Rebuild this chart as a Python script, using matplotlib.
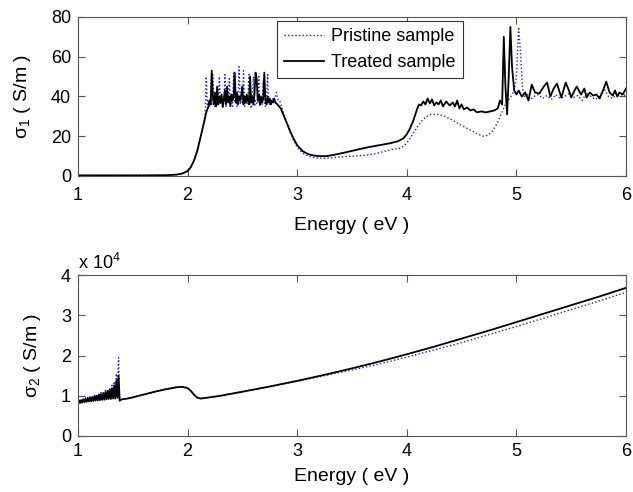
import matplotlib
matplotlib.use("Agg")
import matplotlib.pyplot as plt

plt.rcParams['font.family'] = ['Liberation Sans', 'DejaVu Sans']
plt.rcParams['mathtext.fontset'] = 'custom'
plt.rcParams['mathtext.rm'] = 'Liberation Sans'
plt.rcParams['mathtext.default'] = 'regular'

# ---- sigma_1 (S/m), pristine sample ----
e1_pristine = [1.00, 1.20, 1.40, 1.60, 1.80, 1.90, 1.95, 2.00, 2.03, 2.06, 2.09, 2.12, 2.15,
               2.16, 2.17, 2.18, 2.19, 2.20, 2.21, 2.22, 2.23, 2.24, 2.25, 2.26, 2.27, 2.28, 2.29,
               2.30, 2.31, 2.32, 2.33, 2.34, 2.35, 2.36, 2.37, 2.38, 2.39,
               2.40, 2.41, 2.42, 2.43, 2.44, 2.45, 2.46, 2.47, 2.48, 2.49,
               2.50, 2.51, 2.52, 2.53, 2.54, 2.55, 2.56, 2.57, 2.58, 2.59,
               2.60, 2.61, 2.62, 2.63, 2.64, 2.65, 2.66, 2.67, 2.68, 2.69,
               2.70, 2.71, 2.72, 2.73, 2.74, 2.75, 2.76, 2.77, 2.78, 2.79,
               2.80, 2.81, 2.82, 2.83, 2.84, 2.85,
               2.88, 2.91, 2.94, 2.97, 3.00, 3.05, 3.10, 3.15, 3.20, 3.25, 3.32, 3.40, 3.50, 3.60,
               3.70, 3.80, 3.88, 3.94, 3.98, 4.02, 4.06, 4.10, 4.14, 4.18, 4.22, 4.28, 4.35, 4.42,
               4.50, 4.58, 4.65, 4.70, 4.74, 4.78, 4.82, 4.86, 4.90, 4.95, 4.98, 5.00, 5.02, 5.04,
               5.055, 5.07, 5.10, 5.13, 5.16, 5.20, 5.24, 5.28, 5.32, 5.36, 5.40, 5.44, 5.48, 5.52,
               5.56, 5.60, 5.64, 5.68, 5.72, 5.76, 5.80, 5.84, 5.88, 5.92, 5.96, 6.00]
s1_pristine = [0.3, 0.3, 0.3, 0.3, 0.4, 0.7, 1.2, 2.5, 4.5, 8, 13, 20, 27,
               31, 50, 36, 38, 35, 39, 36, 51, 37, 35, 39, 36, 38, 50,
               36, 38, 34, 37, 51, 35, 39, 37, 49, 36,
               38, 35, 52, 37, 39, 35, 38, 55, 36, 39,
               37, 53, 35, 38, 36, 39, 51, 36, 34, 38,
               50, 35, 38, 36, 37, 50, 35, 38, 36, 48,
               37, 35, 38, 51, 37, 36, 38, 37, 39, 38,
               40, 42, 39, 38, 38, 36,
               31, 26, 21.5, 17.5, 14.5, 11.5, 10, 9.3, 9, 8.9, 9.2, 9.6, 10, 10.3,
               11, 12.5, 13.5, 14, 15.5, 18, 21.5, 25, 28, 30, 31, 31, 30, 28,
               25.5, 23, 21, 20, 20.5, 22.5, 26, 31, 36, 40, 43, 50, 75, 60,
               45, 40, 41, 38.5, 40, 41, 39, 40.5, 38.5, 41, 39, 40, 41.5, 39.5,
               40.5, 38, 42, 40, 38.5, 40, 44, 40, 39, 42, 40, 41]

# ---- sigma_1 (S/m), treated sample ----
e1_treated = [1.00, 1.20, 1.40, 1.60, 1.80, 1.90, 1.95, 2.00, 2.03, 2.06, 2.09, 2.12, 2.15, 2.17, 2.19,
              2.20, 2.21, 2.22, 2.23, 2.24, 2.25, 2.26, 2.27, 2.28, 2.29,
              2.30, 2.31, 2.32, 2.33, 2.34, 2.35, 2.36, 2.37, 2.38, 2.39,
              2.40, 2.41, 2.42, 2.43, 2.44, 2.45, 2.46, 2.47, 2.48, 2.49,
              2.50, 2.51, 2.52, 2.53, 2.54, 2.55, 2.56, 2.57, 2.58, 2.59,
              2.60, 2.61, 2.62, 2.63, 2.64, 2.65, 2.66, 2.67, 2.68, 2.69,
              2.70, 2.71, 2.72, 2.73, 2.74, 2.75, 2.76, 2.77, 2.78, 2.79, 2.80,
              2.82, 2.85, 2.88, 2.91, 2.94, 2.97, 3.00, 3.05, 3.10, 3.15, 3.20, 3.27, 3.35, 3.45,
              3.55, 3.65, 3.75, 3.85, 3.92, 3.97, 4.00, 4.03, 4.06, 4.09, 4.11, 4.13, 4.15, 4.17,
              4.19, 4.21, 4.23, 4.25, 4.27, 4.29, 4.31, 4.33, 4.36, 4.39, 4.42, 4.44, 4.46, 4.48,
              4.50, 4.52, 4.55, 4.58, 4.61, 4.64, 4.68, 4.72, 4.76, 4.80, 4.83, 4.85, 4.87, 4.885,
              4.90, 4.915, 4.93, 4.945, 4.96, 4.98, 5.00, 5.02, 5.05, 5.08, 5.11, 5.14, 5.17, 5.21,
              5.25, 5.28, 5.31, 5.34, 5.37, 5.41, 5.45, 5.48, 5.50, 5.53, 5.55, 5.59, 5.62, 5.64,
              5.67, 5.70, 5.73, 5.76, 5.79, 5.82, 5.85, 5.88, 5.90, 5.92, 5.94, 5.97, 6.00]
s1_treated = [0.3, 0.3, 0.3, 0.3, 0.4, 0.7, 1.2, 2.5, 4.5, 8, 13, 20, 27, 32, 35,
              38, 36, 53, 40, 36, 42, 35, 45, 36, 40,
              37, 41, 35, 38, 43, 36, 45, 37, 40, 35,
              41, 38, 40, 52, 37, 42, 36, 40, 38, 41,
              45, 36, 40, 37, 41, 38, 36, 50, 37, 40,
              36, 41, 52, 49, 38, 41, 36, 40, 37, 39,
              52, 38, 36, 40, 37, 39, 36, 38, 37, 39, 37,
              36, 34, 30, 26, 22, 18.5, 15.5, 12.5, 11, 10.3, 10, 10, 10.8, 12,
              13.3, 14.5, 15.5, 16.5, 17.5, 19, 21, 24, 28, 33, 36, 35.5, 37.5, 36,
              39, 36.5, 38.5, 35.5, 37, 36, 38, 35, 37.5, 35.5, 37, 35, 38, 34,
              36, 33.5, 34.5, 33, 33.5, 32, 32.5, 32, 32.5, 33, 34, 38, 36, 70,
              45, 31, 50, 75, 55, 43, 41, 43, 40, 42, 38, 46, 42, 41.5,
              45, 47, 40, 44, 46.5, 39.5, 47, 43, 39.5, 43, 45, 41, 44, 39.5,
              42, 40.5, 41, 39, 43, 47.5, 42, 40.5, 43, 40, 42, 41, 44]

# ---- sigma_2 (x 1e4 S/m) ----
e2_noise = [1.00, 1.01, 1.02, 1.03, 1.04, 1.05, 1.06, 1.07, 1.08, 1.09,
            1.10, 1.11, 1.12, 1.13, 1.14, 1.15, 1.16, 1.17, 1.18, 1.19,
            1.20, 1.21, 1.22, 1.23, 1.24, 1.25, 1.26, 1.27, 1.28, 1.29,
            1.30, 1.31, 1.32, 1.33, 1.34, 1.35, 1.36, 1.37]
e2_smooth = [1.38, 1.40, 1.45, 1.50, 1.60, 1.70, 1.80, 1.90, 1.95, 2.00, 2.03, 2.06, 2.09, 2.12,
             2.20, 2.30, 2.50, 2.75, 3.00, 3.25, 3.50, 3.75, 4.00, 4.25, 4.50, 4.75, 5.00,
             5.25, 5.50, 5.75, 6.00]
s2_pristine = ([0.82, 0.90, 0.84, 0.92, 0.85, 0.93, 0.86, 0.95, 0.87, 0.96,
                0.88, 0.98, 0.89, 1.00, 0.90, 1.01, 0.91, 1.04, 0.91, 1.06,
                0.92, 1.08, 0.93, 1.10, 0.93, 1.13, 0.94, 1.16, 0.95, 1.20,
                0.95, 1.26, 0.96, 1.35, 0.97, 1.55, 1.00, 1.95]
               + [0.88, 0.91, 0.93, 0.96, 1.03, 1.10, 1.17, 1.22, 1.23, 1.20, 1.12, 1.02, 0.95, 0.93,
                  0.96, 1.00, 1.10, 1.23, 1.36, 1.50, 1.64, 1.79, 1.96, 2.14, 2.32, 2.52, 2.72,
                  2.93, 3.14, 3.35, 3.57])
s2_treated = ([0.80, 0.88, 0.82, 0.89, 0.83, 0.91, 0.84, 0.92, 0.85, 0.94,
               0.86, 0.95, 0.86, 0.97, 0.87, 0.98, 0.88, 1.00, 0.88, 1.02,
               0.89, 1.04, 0.90, 1.06, 0.90, 1.09, 0.91, 1.12, 0.92, 1.15,
               0.92, 1.19, 0.93, 1.25, 0.93, 1.38, 0.95, 1.50]
              + [0.88, 0.91, 0.93, 0.96, 1.03, 1.10, 1.16, 1.21, 1.22, 1.19, 1.12, 1.02, 0.95, 0.93,
                 0.96, 1.00, 1.10, 1.23, 1.37, 1.52, 1.68, 1.85, 2.03, 2.22, 2.42, 2.62, 2.83,
                 3.04, 3.25, 3.46, 3.68])
e2 = e2_noise + e2_smooth

x_ticks = [1, 2, 3, 4, 5, 6]
labels = ['Pristine sample', 'Treated sample']

axis_col = '#555555'
blue_dot = dict(color='#2020d0', lw=1.0, linestyle=(0, (1, 1.6)))
black_ln = dict(color='black', lw=1.3)

fig = plt.figure(figsize=(6.33, 4.92), dpi=100)
ax1 = fig.add_axes([78 / 633, 316 / 492, 548 / 633, 159 / 492])
ax2 = fig.add_axes([78 / 633, 56 / 492, 548 / 633, 161 / 492])

ax1.plot(e1_pristine, s1_pristine, label=labels[0], **blue_dot)
ax1.plot(e1_treated, s1_treated, label=labels[1], **black_ln)
ax2.plot(e2, s2_pristine, **blue_dot)
ax2.plot(e2, s2_treated, **black_ln)

ax1.set_ylim(0, 80)
ax1.set_yticks([0, 20, 40, 60, 80])
ax2.set_ylim(0, 4)
ax2.set_yticks([0, 1, 2, 3, 4])

for ax in (ax1, ax2):
    ax.set_xlim(1, 6)
    ax.set_xticks(x_ticks)
    ax.tick_params(direction='in', top=True, right=True, length=5, width=0.8,
                   color=axis_col, labelsize=13, pad=5)
    for sp in ax.spines.values():
        sp.set_color(axis_col)
        sp.set_linewidth(0.8)

# top panel sits its labels a bit lower than the bottom one
ax1.tick_params(axis='x', pad=8)
ax1.set_xlabel('Energy ( eV )', fontsize=14, labelpad=9)
ax2.set_xlabel('Energy ( eV )', fontsize=14, labelpad=6)

ax1.set_ylabel('σ$_1$ ( S/m )', fontsize=14, labelpad=13)
ax2.set_ylabel('σ$_2$ ( S/m )', fontsize=14, labelpad=13)
ax2.text(0, 1.01, 'x 10$^4$', transform=ax2.transAxes, ha='left', va='bottom', fontsize=13)

leg = ax1.legend(loc='upper left', bbox_to_anchor=(0.363, 0.975), fontsize=13,
                 fancybox=False, framealpha=1, edgecolor='#333333', handlelength=2.2,
                 borderpad=0.4, labelspacing=0.5, handletextpad=0.4, borderaxespad=0)
leg.get_frame().set_linewidth(0.8)

fig.savefig('out.png', dpi=100)
